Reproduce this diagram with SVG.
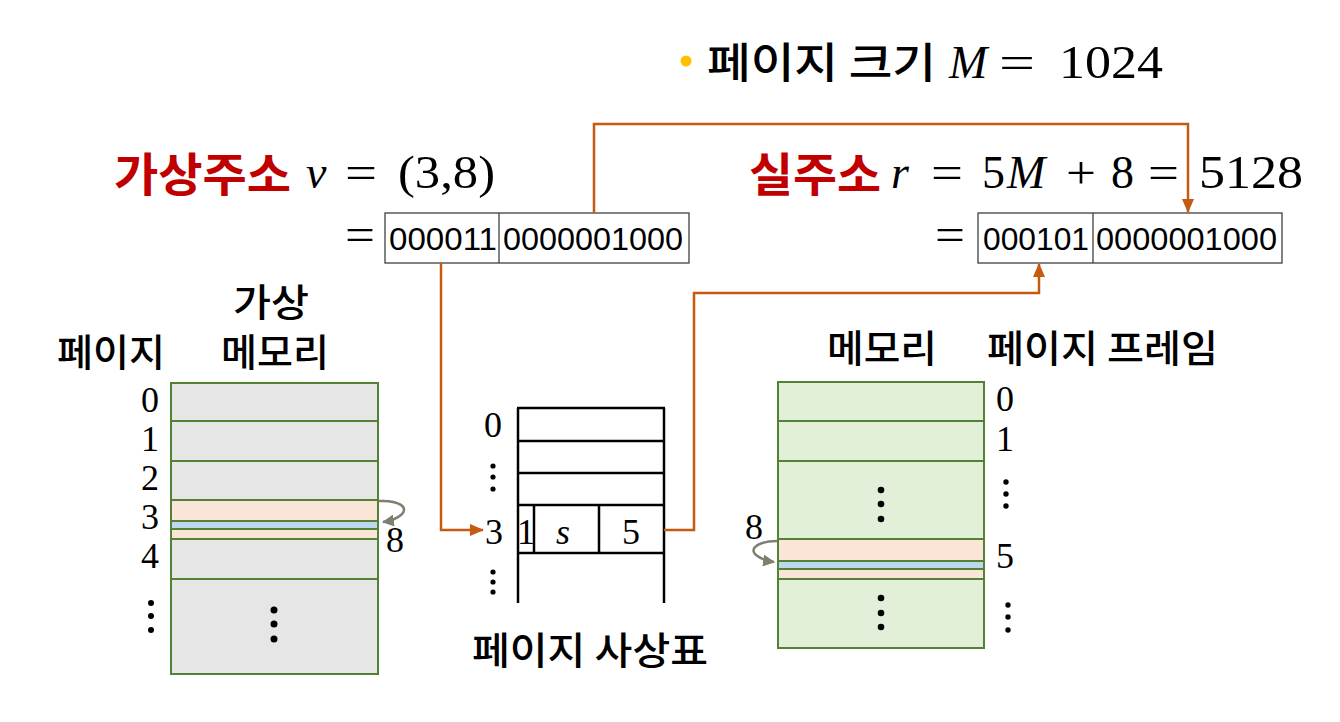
<svg xmlns="http://www.w3.org/2000/svg" width="1340" height="722" viewBox="0 0 1340 722">
<defs>
<style>
.kr{font-family:"Noto Sans CJK KR","Noto Sans",sans-serif;fill:#000;font-weight:500}
.red{font-family:"Noto Sans CJK KR","Noto Sans",sans-serif;fill:#C00000;font-weight:700}
.m{font-family:"Liberation Serif",serif;fill:#000}
.mi{font-family:"Liberation Serif",serif;font-style:italic;fill:#000}
.bin{font-family:"Liberation Sans",sans-serif;font-size:32px;fill:#000}
.num{font-family:"Liberation Serif",serif;font-size:36px;fill:#000;text-anchor:middle}
.mem{stroke:#548235;stroke-width:2}
.pt{stroke:#000;stroke-width:2.5;fill:none}
.conn{fill:none;stroke:#C55A11;stroke-width:2.5}
.curl{fill:none;stroke:#7F7F70;stroke-width:2.5}
.box{fill:none;stroke:#404040;stroke-width:1.3}
</style>
<marker id="ah" markerUnits="userSpaceOnUse" markerWidth="14" markerHeight="12" refX="13" refY="6" orient="auto">
<path d="M0,0 L14,6 L0,12 Z" fill="#C55A11"/>
</marker>
<marker id="ag" markerUnits="userSpaceOnUse" markerWidth="12" markerHeight="12" refX="11" refY="6" orient="auto">
<path d="M0,0 L12,6 L0,12 Z" fill="#7F7F70"/>
</marker>
</defs>
<rect width="1340" height="722" fill="#fff"/>

<g id="title">
<circle cx="686" cy="61" r="5.5" fill="#FFC000"/>
<text class="kr" x="707" y="78" font-size="42" font-weight="700" textLength="229" lengthAdjust="spacingAndGlyphs">페이지 크기</text>
<text class="mi" x="949" y="78" font-size="46">M</text>
<text class="m" x="999" y="78" font-size="46" textLength="36" lengthAdjust="spacingAndGlyphs">=</text>
<text class="m" x="1059" y="78" font-size="46" textLength="104" lengthAdjust="spacingAndGlyphs">1024</text>
</g>

<g id="virtual-address">
<text class="red" x="114" y="191" font-size="46" textLength="177" lengthAdjust="spacingAndGlyphs">가상주소</text>
<text class="mi" x="306" y="188" font-size="46">v</text>
<text class="m" x="345" y="188" font-size="46" textLength="32" lengthAdjust="spacingAndGlyphs">=</text>
<text class="m" x="398" y="188" font-size="46" textLength="97" lengthAdjust="spacingAndGlyphs">(3,8)</text>
<text class="m" x="345" y="250" font-size="46" textLength="30" lengthAdjust="spacingAndGlyphs">=</text>
<rect class="box" x="385" y="213" width="304" height="50"/>
<line class="box" x1="499" y1="213" x2="499" y2="263"/>
<text class="bin" x="389" y="250" textLength="108" lengthAdjust="spacingAndGlyphs">000011</text>
<text class="bin" x="503" y="250" textLength="180" lengthAdjust="spacingAndGlyphs">0000001000</text>
</g>

<g id="real-address">
<text class="red" x="749" y="191" font-size="46" textLength="132" lengthAdjust="spacingAndGlyphs">실주소</text>
<text class="mi" x="891" y="188" font-size="46">r</text>
<text class="m" x="931" y="188" font-size="46" textLength="32" lengthAdjust="spacingAndGlyphs">=</text>
<text class="m" x="982" y="188" font-size="46">5</text>
<text class="mi" x="1007" y="188" font-size="46">M</text>
<text class="m" x="1066" y="188" font-size="46" textLength="30" lengthAdjust="spacingAndGlyphs">+</text>
<text class="m" x="1111" y="188" font-size="46">8</text>
<text class="m" x="1148" y="188" font-size="46" textLength="31" lengthAdjust="spacingAndGlyphs">=</text>
<text class="m" x="1199" y="188" font-size="46" textLength="104" lengthAdjust="spacingAndGlyphs">5128</text>
<text class="m" x="935" y="250" font-size="46" textLength="30" lengthAdjust="spacingAndGlyphs">=</text>
<rect class="box" x="978" y="213" width="304" height="50"/>
<line class="box" x1="1093" y1="213" x2="1093" y2="263"/>
<text class="bin" x="983" y="250" textLength="106" lengthAdjust="spacingAndGlyphs">000101</text>
<text class="bin" x="1096" y="250" textLength="181" lengthAdjust="spacingAndGlyphs">0000001000</text>
</g>

<g id="virtual-memory">
<text class="kr" x="111" y="366" font-size="38" text-anchor="middle" textLength="108" lengthAdjust="spacingAndGlyphs">페이지</text>
<text class="kr" x="271" y="316" font-size="38" text-anchor="middle" textLength="76" lengthAdjust="spacingAndGlyphs">가상</text>
<text class="kr" x="275" y="366" font-size="38" text-anchor="middle" textLength="108" lengthAdjust="spacingAndGlyphs">메모리</text>
<rect x="171" y="383" width="207" height="291" fill="#E7E6E6"/>
<rect x="171" y="500" width="207" height="39" fill="#FBE5D6"/>
<rect x="171" y="521" width="207" height="8" fill="#BDD7EE"/>
<rect class="mem" x="171" y="383" width="207" height="291" fill="none"/>
<g class="mem">
<line x1="171" y1="421" x2="378" y2="421"/>
<line x1="171" y1="461" x2="378" y2="461"/>
<line x1="171" y1="500" x2="378" y2="500"/>
<line x1="171" y1="521" x2="378" y2="521"/>
<line x1="171" y1="529" x2="378" y2="529"/>
<line x1="171" y1="539" x2="378" y2="539"/>
<line x1="171" y1="579" x2="378" y2="579"/>
</g>
<text class="num" x="150" y="412">0</text>
<text class="num" x="150" y="451">1</text>
<text class="num" x="150" y="490">2</text>
<text class="num" x="150" y="529">3</text>
<text class="num" x="150" y="568">4</text>
<g fill="#000">
<circle cx="151" cy="603" r="3"/><circle cx="151" cy="616" r="3"/><circle cx="151" cy="630" r="3"/>
<circle cx="274" cy="610" r="3.5"/><circle cx="274" cy="624" r="3.5"/><circle cx="274" cy="639" r="3.5"/>
</g>
<path class="curl" d="M379,501 C398,500 410,507 401,515 C396,519 390,521 383,522" marker-end="url(#ag)"/>
<text class="num" x="395" y="552">8</text>
</g>

<g id="page-table">
<line class="pt" x1="518" y1="408" x2="518" y2="603"/>
<line class="pt" x1="664" y1="408" x2="664" y2="603"/>
<line class="pt" x1="517" y1="408" x2="665" y2="408"/>
<line class="pt" x1="517" y1="441" x2="665" y2="441"/>
<line class="pt" x1="517" y1="473" x2="665" y2="473"/>
<line class="pt" x1="517" y1="505" x2="665" y2="505"/>
<line class="pt" x1="517" y1="553" x2="665" y2="553"/>
<line class="pt" x1="534" y1="505" x2="534" y2="553"/>
<line class="pt" x1="599" y1="505" x2="599" y2="553"/>
<text class="num" x="493" y="437">0</text>
<text class="num" x="494" y="544">3</text>
<text class="num" x="526" y="544">1</text>
<text class="num" x="563" y="544" font-style="italic">s</text>
<text class="num" x="631" y="544">5</text>
<g fill="#000">
<circle cx="493" cy="466" r="2.6"/><circle cx="493" cy="477" r="2.6"/><circle cx="493" cy="489" r="2.6"/>
<circle cx="493" cy="572" r="2.6"/><circle cx="493" cy="582" r="2.6"/><circle cx="493" cy="592" r="2.6"/>
</g>
<text class="kr" x="472" y="664" font-size="38" textLength="236" lengthAdjust="spacingAndGlyphs">페이지 사상표</text>
</g>

<g id="physical-memory">
<text class="kr" x="882" y="362" font-size="38" text-anchor="middle" textLength="110" lengthAdjust="spacingAndGlyphs">메모리</text>
<text class="kr" x="987" y="362" font-size="38" textLength="231" lengthAdjust="spacingAndGlyphs">페이지 프레임</text>
<rect x="778" y="382" width="206" height="266" fill="#E2F0D9"/>
<rect x="778" y="539" width="206" height="40" fill="#FBE5D6"/>
<rect x="778" y="561" width="206" height="8" fill="#BDD7EE"/>
<rect class="mem" x="778" y="382" width="206" height="266" fill="none"/>
<g class="mem">
<line x1="778" y1="421" x2="984" y2="421"/>
<line x1="778" y1="461" x2="984" y2="461"/>
<line x1="778" y1="539" x2="984" y2="539"/>
<line x1="778" y1="561" x2="984" y2="561"/>
<line x1="778" y1="569" x2="984" y2="569"/>
<line x1="778" y1="579" x2="984" y2="579"/>
</g>
<text class="num" x="1005" y="411">0</text>
<text class="num" x="1005" y="451">1</text>
<text class="num" x="1005" y="568">5</text>
<g fill="#000">
<circle cx="1006" cy="482" r="2.7"/><circle cx="1006" cy="494" r="2.7"/><circle cx="1006" cy="506" r="2.7"/>
<circle cx="1008" cy="605" r="2.7"/><circle cx="1008" cy="617" r="2.7"/><circle cx="1008" cy="630" r="2.7"/>
<circle cx="881" cy="490" r="3.3"/><circle cx="881" cy="504" r="3.3"/><circle cx="881" cy="519" r="3.3"/>
<circle cx="881" cy="598" r="3.3"/><circle cx="881" cy="613" r="3.3"/><circle cx="881" cy="627" r="3.3"/>
</g>
<path class="curl" d="M777,541 C760,541 748,548 756,555 C761,559 767,561 774,562" marker-end="url(#ag)"/>
<text class="num" x="754" y="539">8</text>
</g>

<g id="connectors">
<path class="conn" d="M594,213 V124 H1188 V212" marker-end="url(#ah)"/>
<path class="conn" d="M441,263 V530 H483" marker-end="url(#ah)"/>
<path class="conn" d="M664,530 H694 V293 H1039 V264" marker-end="url(#ah)"/>
</g>
</svg>
